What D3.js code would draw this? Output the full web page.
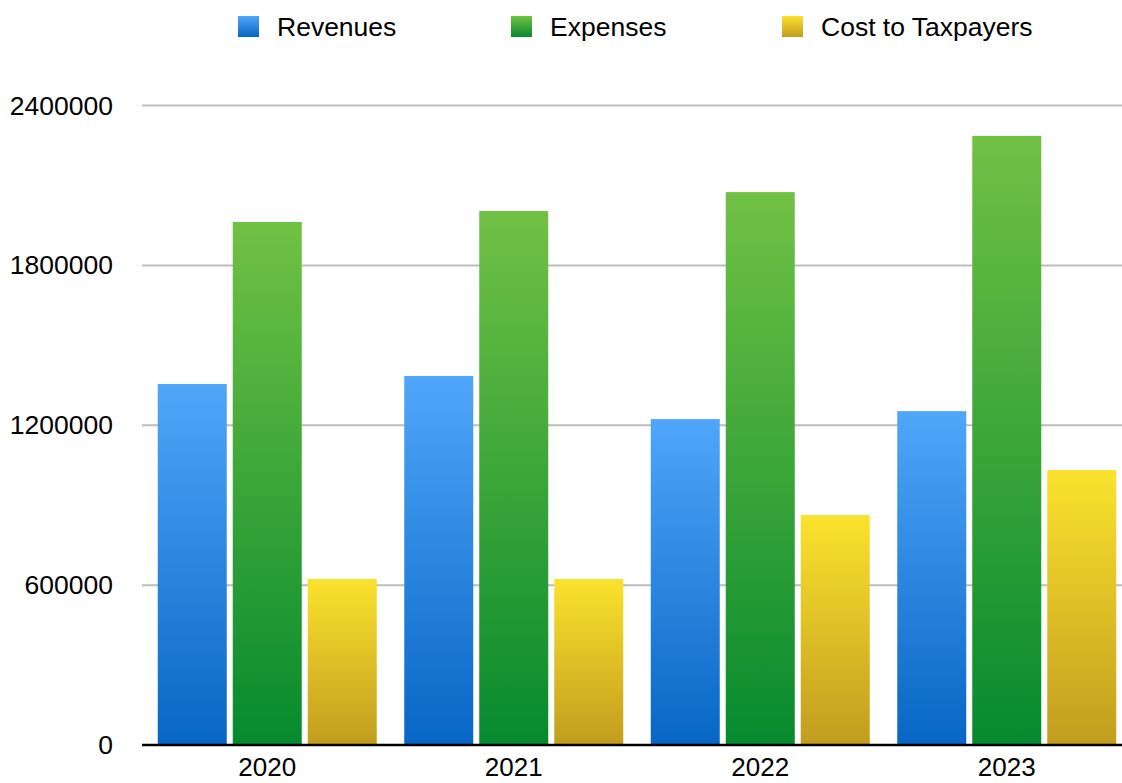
<!DOCTYPE html>
<html>
<head>
<meta charset="utf-8">
<script src="https://cdn.jsdelivr.net/npm/d3@7/dist/d3.min.js"></script>
<style>
  html, body { margin: 0; padding: 0; background: #fff; }
  svg { display: block; font-family: "Liberation Sans", Arial, Helvetica, sans-serif; }
</style>
</head>
<body>
<svg id="chart" width="1122" height="783"></svg>
<script>
const years = ["2020", "2021", "2022", "2023"];
const seriesNames = ["Revenues", "Expenses", "Cost to Taxpayers"];
const revenues = [1355000, 1385000, 1223000, 1253000];
const expenses = [1963000, 2004000, 2075000, 2286000];
const costToTaxpayers = [623000, 623000, 863000, 1032000];
const yTicks = [0, 600000, 1200000, 1800000, 2400000];

const seriesValues = [revenues, expenses, costToTaxpayers];
const gradColors = [
  ["#50a6f9", "#0766c5"],
  ["#71c144", "#068a2e"],
  ["#fbe22d", "#c19d1f"]
];

const svg = d3.select("#chart");
const defs = svg.append("defs");
gradColors.forEach((c, i) => {
  const g = defs.append("linearGradient").attr("id", "g" + i)
    .attr("x1", 0).attr("y1", 0).attr("x2", 0).attr("y2", 1);
  g.append("stop").attr("offset", "0%").attr("stop-color", c[0]);
  g.append("stop").attr("offset", "100%").attr("stop-color", c[1]);
});

const x0 = d3.scaleBand().domain(years).range([144, 1130]).paddingInner(0).paddingOuter(0);
const y = d3.scaleLinear().domain([0, 2400000]).range([745, 105.5]);

// gridlines
svg.append("g").selectAll("line").data(yTicks.filter(d => d > 0)).join("line")
  .attr("x1", 142).attr("x2", 1122)
  .attr("y1", d => y(d)).attr("y2", d => y(d))
  .attr("stroke", "#bdbdbd").attr("stroke-width", 2);

// y tick labels
svg.append("g").selectAll("text").data(yTicks).join("text")
  .attr("x", 113).attr("y", d => y(d))
  .attr("text-anchor", "end").attr("dominant-baseline", "central")
  .attr("font-size", 26.5).attr("fill", "#000")
  .text(d => d3.format("d")(d));

// bars
const barW = 69, gap = 6;
const groupW = barW * 3 + gap * 2;
const x1 = d3.scaleBand().domain(seriesNames).range([0, groupW]).paddingInner(gap / (barW + gap));
const rows = [];
years.forEach((yr, i) => seriesNames.forEach((s, j) => rows.push({ yr, s, j, v: seriesValues[j][i] })));
svg.append("g").selectAll("rect").data(rows).join("rect")
  .attr("x", d => x0(d.yr) + (x0.bandwidth() - groupW) / 2 + x1(d.s))
  .attr("width", x1.bandwidth())
  .attr("y", d => y(d.v))
  .attr("height", d => y(0) - y(d.v))
  .attr("fill", d => `url(#g${d.j})`);

// x axis line
svg.append("line").attr("x1", 142).attr("x2", 1122).attr("y1", 745).attr("y2", 745)
  .attr("stroke", "#000").attr("stroke-width", 2.5);

// x labels
svg.append("g").selectAll("text").data(years).join("text")
  .attr("x", d => x0(d) + x0.bandwidth() / 2).attr("y", 776)
  .attr("text-anchor", "middle").attr("font-size", 26).attr("fill", "#000")
  .text(d => d);

// legend
const legendX = [238, 511, 782];
const lg = svg.append("g").selectAll("g").data(seriesNames).join("g")
  .attr("transform", (d, i) => `translate(${legendX[i]},16)`);
lg.append("rect").attr("width", 21).attr("height", 21).attr("fill", (d, i) => `url(#g${i})`);
lg.append("text").attr("x", 39).attr("y", 10.5).attr("dominant-baseline", "central")
  .attr("font-size", 26.5).attr("fill", "#000").text(d => d);
</script>
</body>
</html>
